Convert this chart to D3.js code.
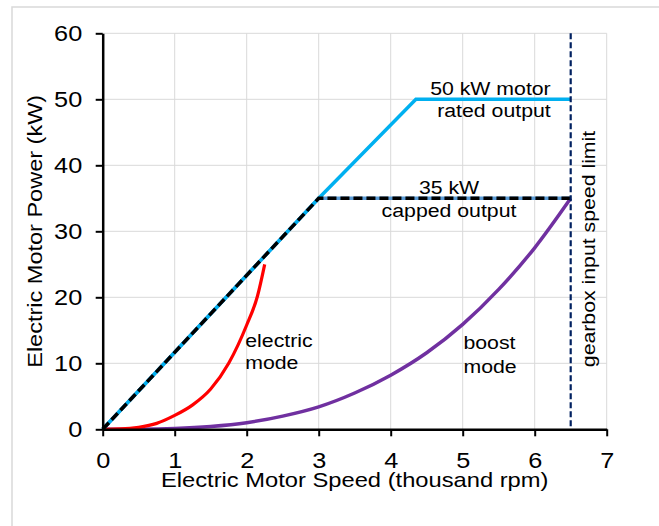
<!doctype html>
<html>
  <head>
    <meta charset="utf-8">
    <title>Electric Motor Power vs Speed</title>
    <style>
      * { margin: 0; padding: 0; }
      body { background: #fff; font-family: "Liberation Sans", Arial, sans-serif; }
      svg { display: block; }
      .grid line { stroke: #d9d9d9; stroke-width: 1px; }
      .axis path, .axis line { stroke: #000; }
      .axis text { font-size: 22px; fill: #000; font-family: "Liberation Sans", Arial, sans-serif; }
      .note { font-size: 19px; fill: #000; }
      .title { font-size: 21px; fill: #000; }
    </style>
    <script src="https://cdnjs.cloudflare.com/ajax/libs/d3/7.8.5/d3.min.js"></script>
  </head>
  <body>
    <script>
      // axis ticks
      var xTicks = [0, 1, 2, 3, 4, 5, 6, 7];
      var yTicks = [0, 10, 20, 30, 40, 50, 60];

      // 50 kW motor rated output (light blue)
      var ratedX = [0, 3, 4.35, 6.5];
      var ratedY = [0, 35, 50, 50];

      // 35 kW capped output (black dashed)
      var cappedX = [0, 3, 6.5];
      var cappedY = [0, 35, 35];

      // electric mode (red)
      var electricX = [0, 0.25, 0.5, 0.75, 1, 1.25, 1.5, 1.75, 2, 2.15, 2.25];
      var electricY = [0, 0.05, 0.3, 0.9, 2.1, 3.7, 6.1, 10, 15.8, 20.2, 25];

      // boost mode (purple)
      var boostX = [0, 0.5, 1, 1.5, 2, 2.5, 3, 3.5, 4, 4.5, 5, 5.5, 6, 6.5];
      var boostY = [0, 0.02, 0.13, 0.43, 1.0, 2.0, 3.4, 5.5, 8.2, 11.6, 15.9, 21.2, 27.5, 35];

      // gearbox input speed limit
      var speedLimit = 6.5;

      var width = 659, height = 526;
      var margin = { top: 33.3, right: 52.3, bottom: 96.7, left: 102.7 };

      var svg = d3.select("body").append("svg")
                  .attr("width", width)
                  .attr("height", height);

      // outer chart border
      svg.append("rect")
         .attr("x", 12).attr("y", 7)
         .attr("width", width).attr("height", height)
         .attr("fill", "#fff")
         .attr("stroke", "#d9d9d9")
         .attr("stroke-width", 1.5);

      var x = d3.scaleLinear().domain([0, 7]).range([margin.left, width - margin.right]);
      var y = d3.scaleLinear().domain([0, 60]).range([height - margin.bottom, margin.top]);

      var grid = svg.append("g").attr("class", "grid");
      grid.selectAll("line.v")
          .data(xTicks.slice(1))
          .enter().append("line")
          .attr("class", "v")
          .attr("x1", function (d) { return x(d); })
          .attr("x2", function (d) { return x(d); })
          .attr("y1", y(0)).attr("y2", y(60));
      grid.selectAll("line.h")
          .data(yTicks.slice(1))
          .enter().append("line")
          .attr("class", "h")
          .attr("x1", x(0)).attr("x2", x(7))
          .attr("y1", function (d) { return y(d); })
          .attr("y2", function (d) { return y(d); });

      var pts = function (xs, ys) { return xs.map(function (v, i) { return [v, ys[i]]; }); };
      var line = d3.line().x(function (d) { return x(d[0]); }).y(function (d) { return y(d[1]); });
      var curve = d3.line().curve(d3.curveMonotoneX).x(function (d) { return x(d[0]); }).y(function (d) { return y(d[1]); });

      svg.append("path").datum(pts(boostX, boostY))
         .attr("d", curve).attr("fill", "none")
         .attr("stroke", "#7030a0").attr("stroke-width", 3.5);

      svg.append("path").datum(pts(electricX, electricY))
         .attr("d", curve).attr("fill", "none")
         .attr("stroke", "#ff0000").attr("stroke-width", 3.2);

      // capped series sits under the dashes as a mid blue
      svg.append("path").datum(pts(cappedX, cappedY))
         .attr("d", line).attr("fill", "none")
         .attr("stroke", "#5b9bd5").attr("stroke-width", 3.5);

      svg.append("path").datum(pts(ratedX, ratedY))
         .attr("d", line).attr("fill", "none")
         .attr("stroke", "#00b0f0").attr("stroke-width", 3.5)
         .attr("stroke-linejoin", "miter");

      svg.append("path").datum(pts(cappedX, cappedY))
         .attr("d", line).attr("fill", "none")
         .attr("stroke", "#000").attr("stroke-width", 3.5)
         .attr("stroke-dasharray", "9,4");

      // axes
      var fmt = d3.format("d");
      var xAxis = d3.axisBottom(x).tickValues(xTicks).tickFormat(fmt).tickSize(7).tickSizeOuter(0).tickPadding(16);
      var yAxis = d3.axisLeft(y).tickValues(yTicks).tickFormat(fmt).tickSize(7).tickSizeOuter(0);

      var gx = svg.append("g").attr("class", "axis")
                  .attr("transform", "translate(0," + y(0) + ")")
                  .call(xAxis);
      var gy = svg.append("g").attr("class", "axis")
                  .attr("transform", "translate(" + x(0) + ",0)")
                  .call(yAxis);
      gx.select(".domain").attr("stroke-width", 2.5);
      gy.select(".domain").attr("stroke-width", 2.5);
      gx.selectAll(".tick line").attr("stroke-width", 2);
      gy.selectAll(".tick line").attr("stroke-width", 2);
      // the source font runs wide, so text gets a horizontal stretch
      gx.selectAll(".tick text").attr("transform", "scale(1.15,1)");
      gy.selectAll(".tick text").attr("x", null)
        .attr("transform", "translate(-20.5,0) scale(1.15,1)");

      // speed limit line
      svg.append("line")
         .attr("x1", x(speedLimit)).attr("x2", x(speedLimit))
         .attr("y1", y(60)).attr("y2", y(0))
         .attr("stroke", "#002060").attr("stroke-width", 2.2)
         .attr("stroke-dasharray", "6,3");

      var label = function (cls, px, py, anchor, str, rot, sx) {
        svg.append("text").attr("class", cls)
           .attr("transform", "translate(" + px + "," + py + ") rotate(" + (rot || 0) + ") scale(" + sx + ",1)")
           .attr("text-anchor", anchor)
           .text(str);
      };

      // axis titles
      label("title", (x(0) + x(7)) / 2, 487, "middle", "Electric Motor Speed (thousand rpm)", 0, 1.13);
      label("title", 42, (y(0) + y(60)) / 2, "middle", "Electric Motor Power (kW)", -90, 1.12);

      // annotations
      label("note", x(6.5) - 20, y(50) - 4.5, "end", "50 kW motor", 0, 1.12);
      label("note", x(6.5) - 20, y(50) + 17.5, "end", "rated output", 0, 1.12);
      label("note", x(4.81), y(35) - 4.5, "middle", "35 kW", 0, 1.12);
      label("note", x(4.81), y(35) + 19, "middle", "capped output", 0, 1.12);
      label("note", x(1.98), y(0) - 82.5, "start", "electric", 0, 1.12);
      label("note", x(1.98), y(0) - 60, "start", "mode", 0, 1.12);
      label("note", x(5.01), y(0) - 80, "start", "boost", 0, 1.12);
      label("note", x(5.01), y(0) - 56.5, "start", "mode", 0, 1.12);
      label("note", 595, 249, "middle", "gearbox input speed limit", -90, 1.12);
    </script>
  </body>
</html>
